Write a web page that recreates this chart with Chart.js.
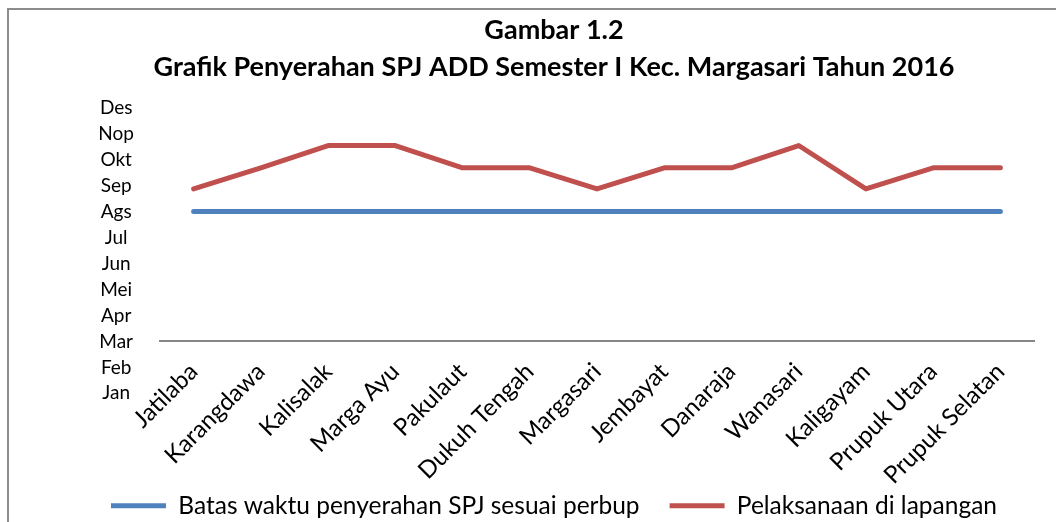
<!DOCTYPE html>
<html>
<head>
<meta charset="utf-8">
<script src="https://cdn.jsdelivr.net/npm/chart.js@4"></script>
<style>
  body { margin: 0; background: #fff; }
  #wrap { position: relative; width: 1056px; height: 522px; overflow: hidden; }
  #frame { position: absolute; left: 7px; top: 8px; width: 1100px; height: 600px;
           border-left: 2px solid #8c8c8c; border-top: 2px solid #8c8c8c; }
  canvas { position: absolute; left: 0; top: 0; }
</style>
</head>
<body>
<div id="wrap">
  <div id="frame"></div>
  <canvas id="chart" width="1056" height="522"></canvas>
</div>
<script>
const desa = ["Jatilaba", "Karangdawa", "Kalisalak", "Marga Ayu", "Pakulaut", "Dukuh Tengah",
  "Margasari", "Jembayat", "Danaraja", "Wanasari", "Kaligayam", "Prupuk Utara", "Prupuk Selatan"];
const bulan = ["Jan", "Feb", "Mar", "Apr", "Mei", "Jun", "Jul", "Ags", "Sep", "Okt", "Nop", "Des"];

// nilai bulan (1 = Jan ... 12 = Des)
const batasWaktu = [8, 8, 8, 8, 8, 8, 8, 8, 8, 8, 8, 8, 8];
const pelaksanaan = [8.87, 9.68, 10.54, 10.54, 9.68, 9.68, 8.87, 9.68, 9.68, 10.54, 8.87, 9.68, 9.68];

const fontName = "Lato, 'Open Sans', sans-serif";

new Chart(document.getElementById("chart"), {
    type: "line",
    data: {
        labels: desa,
        datasets: [{
            label: "Batas waktu penyerahan SPJ sesuai perbup",
            data: batasWaktu,
            borderColor: "#4f81bd",
            backgroundColor: "#4f81bd",
            borderWidth: 5,
            borderCapStyle: "round",
            borderJoinStyle: "round",
            pointRadius: 0,
            tension: 0
        }, {
            label: "Pelaksanaan di lapangan",
            data: pelaksanaan,
            borderColor: "#c0504d",
            backgroundColor: "#c0504d",
            borderWidth: 5,
            borderCapStyle: "round",
            borderJoinStyle: "round",
            pointRadius: 0,
            tension: 0
        }]
    },
    options: {
        responsive: false,
        animation: false,
        layout: {
            padding: { left: 74, right: 22, top: 10, bottom: -6 }
        },
        plugins: {
            title: {
                display: true,
                text: ["Gambar 1.2", "Grafik Penyerahan SPJ ADD Semester I Kec. Margasari Tahun 2016"],
                color: "#000",
                font: { family: fontName, size: 27, weight: "bold", lineHeight: 1.4 },
                padding: { top: 1, bottom: 8 }
            },
            legend: {
                position: "bottom",
                labels: {
                    color: "#000",
                    font: { family: fontName, size: 24.5 },
                    usePointStyle: true,
                    pointStyle: "line",
                    pointStyleWidth: 55,
                    boxHeight: 24,
                    padding: 30
                }
            },
            tooltip: { enabled: false }
        },
        scales: {
            x: {
                type: "category",
                offset: true,
                position: { y: 3 },
                grid: { display: false, drawTicks: false },
                border: { display: true, color: "#868686", width: 2 },
                ticks: {
                    color: "#000",
                    font: { family: fontName, size: 24 },
                    minRotation: 45,
                    maxRotation: 45,
                    autoSkip: false,
                    padding: 16
                }
            },
            y: {
                type: "linear",
                min: -1.7,
                max: 12.5,
                grid: { display: false, drawTicks: false },
                border: { display: false },
                afterFit: s => { s.width = 86; },
                afterBuildTicks: s => { s.ticks = bulan.map((b, i) => ({ value: i + 1 })); },
                ticks: {
                    color: "#000",
                    font: { family: fontName, size: 19 },
                    crossAlign: "center",
                    padding: 26,
                    callback: v => bulan[v - 1]
                }
            }
        }
    }
});
</script>
</body>
</html>
